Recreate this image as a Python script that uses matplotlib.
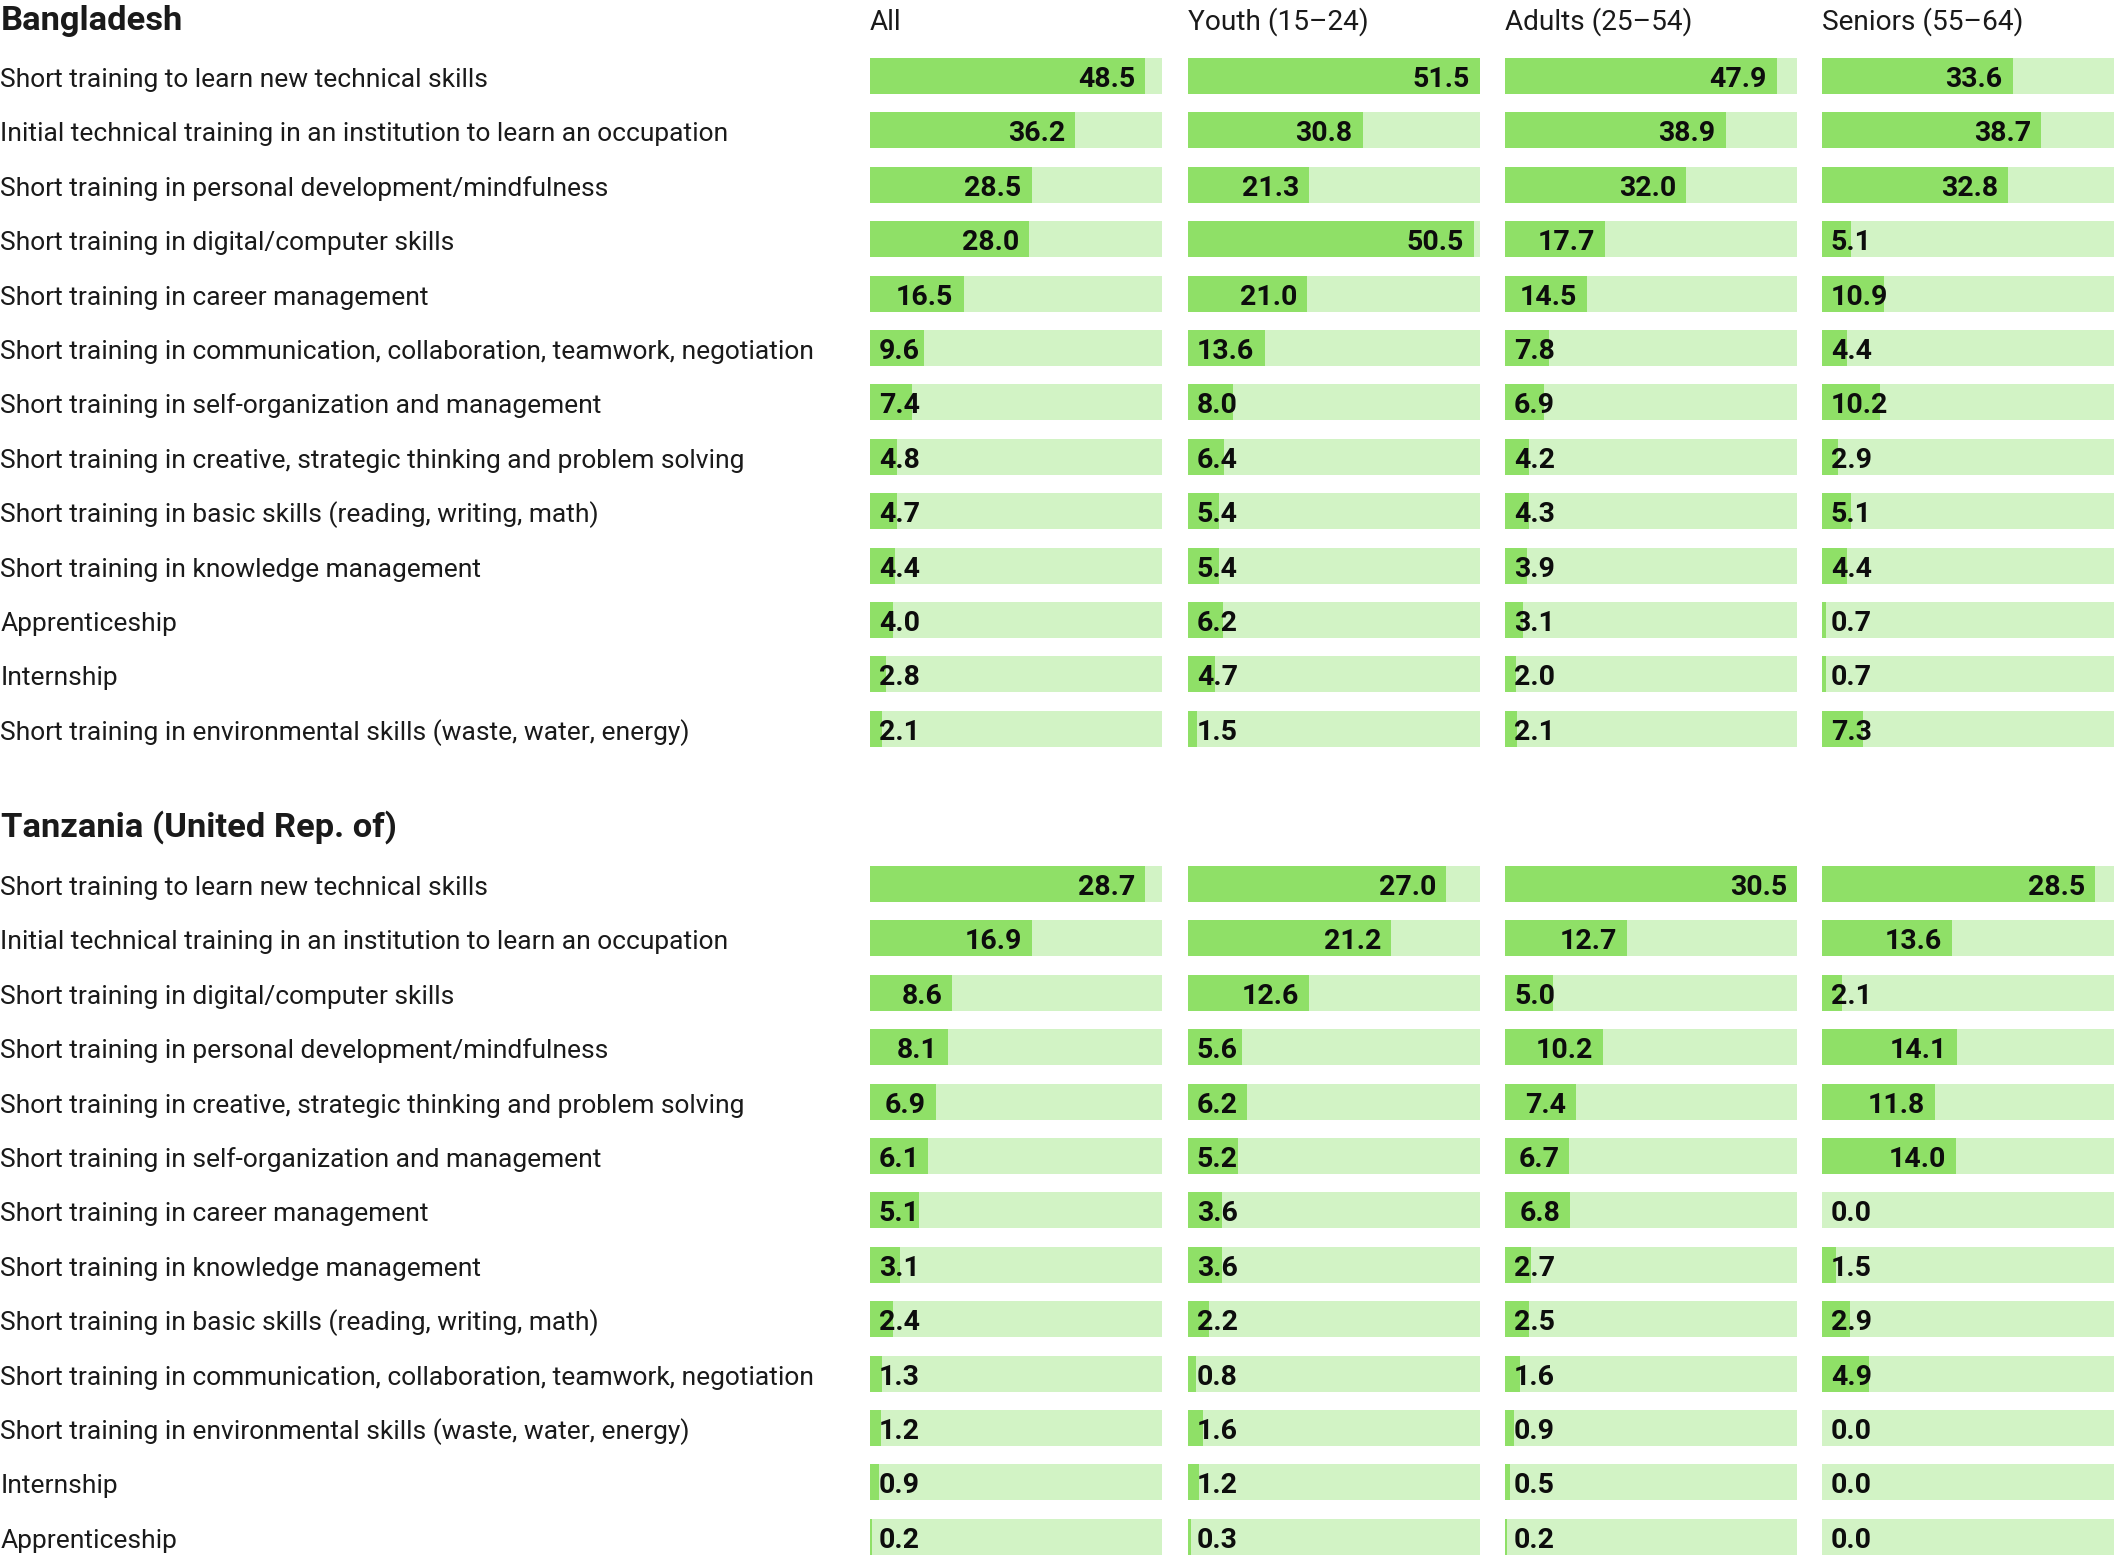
import matplotlib
matplotlib.use('Agg')
import matplotlib.pyplot as plt
from matplotlib.transforms import blended_transform_factory, offset_copy

plt.rcParams['font.family'] = ['Roboto', 'DejaVu Sans']

groups = ['All', 'Youth (15–24)', 'Adults (25–54)', 'Seniors (55–64)']

bd_title = 'Bangladesh'
bd_categories = [
    'Short training to learn new technical skills',
    'Initial technical training in an institution to learn an occupation',
    'Short training in personal development/mindfulness',
    'Short training in digital/computer skills',
    'Short training in career management',
    'Short training in communication, collaboration, teamwork, negotiation',
    'Short training in self-organization and management',
    'Short training in creative, strategic thinking and problem solving',
    'Short training in basic skills (reading, writing, math)',
    'Short training in knowledge management',
    'Apprenticeship',
    'Internship',
    'Short training in environmental skills (waste, water, energy)',
]
bd_all = [48.5, 36.2, 28.5, 28.0, 16.5, 9.6, 7.4, 4.8, 4.7, 4.4, 4.0, 2.8, 2.1]
bd_youth = [51.5, 30.8, 21.3, 50.5, 21.0, 13.6, 8.0, 6.4, 5.4, 5.4, 6.2, 4.7, 1.5]
bd_adults = [47.9, 38.9, 32.0, 17.7, 14.5, 7.8, 6.9, 4.2, 4.3, 3.9, 3.1, 2.0, 2.1]
bd_seniors = [33.6, 38.7, 32.8, 5.1, 10.9, 4.4, 10.2, 2.9, 5.1, 4.4, 0.7, 0.7, 7.3]

tz_title = 'Tanzania (United Rep. of)'
tz_categories = [
    'Short training to learn new technical skills',
    'Initial technical training in an institution to learn an occupation',
    'Short training in digital/computer skills',
    'Short training in personal development/mindfulness',
    'Short training in creative, strategic thinking and problem solving',
    'Short training in self-organization and management',
    'Short training in career management',
    'Short training in knowledge management',
    'Short training in basic skills (reading, writing, math)',
    'Short training in communication, collaboration, teamwork, negotiation',
    'Short training in environmental skills (waste, water, energy)',
    'Internship',
    'Apprenticeship',
]
tz_all = [28.7, 16.9, 8.6, 8.1, 6.9, 6.1, 5.1, 3.1, 2.4, 1.3, 1.2, 0.9, 0.2]
tz_youth = [27.0, 21.2, 12.6, 5.6, 6.2, 5.2, 3.6, 3.6, 2.2, 0.8, 1.6, 1.2, 0.3]
tz_adults = [30.5, 12.7, 5.0, 10.2, 7.4, 6.7, 6.8, 2.7, 2.5, 1.6, 0.9, 0.5, 0.2]
tz_seniors = [28.5, 13.6, 2.1, 14.1, 11.8, 14.0, 0.0, 1.5, 2.9, 4.9, 0.0, 0.0, 0.0]

W, H = 2114, 1559
fig = plt.figure(figsize=(W / 100, H / 100), dpi=100)
renderer = fig.canvas.get_renderer()

BAR = '#8fe067'
BG = '#d2f3c5'
TXT = '#1a1a1a'

col_left = [870, 1188, 1505, 1822]
col_w = 292
row_h = 54.4
bar_h = 36 / row_h
pad = 10

sections = [
    (bd_title, bd_categories, [bd_all, bd_youth, bd_adults, bd_seniors], 76, 30),
    (tz_title, tz_categories, [tz_all, tz_youth, tz_adults, tz_seniors], 884, 837),
]

for title, cats, series, first_c, title_base in sections:
    n = len(cats)
    vmax = max(max(s) for s in series)
    top = first_c - row_h / 2
    height = n * row_h
    fig.text(1 / W, 1 - title_base / H, title, fontsize=24.8, fontweight='bold',
             color=TXT, va='baseline', ha='left')
    axes = []
    for c, vals in enumerate(series):
        ax = fig.add_axes([col_left[c] / W, 1 - (top + height) / H, col_w / W, height / H])
        ax.set_xlim(0, vmax)
        ax.set_ylim(n - 0.5, -0.5)
        ax.axis('off')
        ys = list(range(n))
        ax.barh(ys, [vmax] * n, height=bar_h, color=BG, linewidth=0)
        ax.barh(ys, vals, height=bar_h, color=BAR, linewidth=0)
        tr_r = offset_copy(ax.transData, fig, x=-pad, y=-11, units='dots')
        tr_l = offset_copy(ax.transData, fig, x=pad - 1, y=-11, units='dots')
        for i, v in enumerate(vals):
            t = ax.text(v, i, f'{v:.1f}', ha='right', va='baseline', fontsize=20.5,
                        fontweight='bold', color='#0d0d0d', transform=tr_r)
            tw = t.get_window_extent(renderer).width
            end_px = v / vmax * col_w
            if end_px - pad - tw < pad:
                t.set_transform(tr_l)
                t.set_x(0)
                t.set_ha('left')
        axes.append(ax)
    blend = blended_transform_factory(fig.transFigure, axes[0].transData)
    tr_lab = offset_copy(blend, fig, x=0, y=-11, units='dots')
    for i, cat in enumerate(cats):
        fig.text(0.5 / W, i, cat, transform=tr_lab, fontsize=19, color=TXT,
                 va='baseline', ha='left')

for c, g in enumerate(groups):
    fig.text(col_left[c] / W, 1 - 30 / H, g, fontsize=20.2, color=TXT,
             va='baseline', ha='left')

fig.savefig('out.png', dpi=100, facecolor='white')
